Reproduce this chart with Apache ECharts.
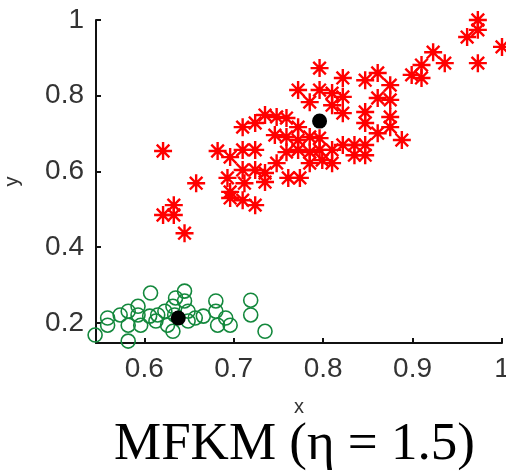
<!DOCTYPE html>
<html>
<head>
<meta charset="utf-8">
<script src="https://cdn.jsdelivr.net/npm/echarts@6/dist/echarts.min.js"></script>
<style>
  html, body { margin: 0; padding: 0; background: #fff; }
  #chart { width: 506px; height: 475px; }
</style>
</head>
<body>
<div id="chart"></div>
<script>
// cluster 1 (red asterisks)
const redPoints = [
  [0.621, 0.654], [0.658, 0.569], [0.621, 0.485], [0.633, 0.511], [0.633, 0.485], [0.645, 0.437],
  [0.682, 0.654], [0.696, 0.638], [0.710, 0.657], [0.724, 0.657], [0.710, 0.717], [0.724, 0.728],
  [0.735, 0.749], [0.748, 0.744], [0.759, 0.741], [0.772, 0.717], [0.710, 0.604], [0.724, 0.604],
  [0.693, 0.583], [0.712, 0.569], [0.696, 0.546], [0.696, 0.530], [0.710, 0.524], [0.724, 0.511],
  [0.735, 0.596], [0.735, 0.572], [0.748, 0.622], [0.761, 0.583], [0.774, 0.583], [0.746, 0.696],
  [0.759, 0.691], [0.772, 0.683], [0.759, 0.651], [0.772, 0.657], [0.796, 0.873], [0.772, 0.815],
  [0.785, 0.783], [0.796, 0.815], [0.810, 0.807], [0.822, 0.847], [0.822, 0.797], [0.810, 0.775],
  [0.822, 0.754], [0.785, 0.691], [0.796, 0.688], [0.785, 0.651], [0.796, 0.657], [0.810, 0.657],
  [0.785, 0.622], [0.799, 0.630], [0.810, 0.622], [0.822, 0.670], [0.835, 0.670], [0.835, 0.643],
  [0.847, 0.670], [0.847, 0.643], [0.847, 0.841], [0.861, 0.860], [0.875, 0.828], [0.875, 0.789],
  [0.875, 0.744], [0.875, 0.717], [0.888, 0.683], [0.861, 0.701], [0.847, 0.757], [0.847, 0.728],
  [0.861, 0.794], [0.899, 0.855], [0.910, 0.881], [0.910, 0.847], [0.923, 0.915], [0.936, 0.886],
  [0.961, 0.955], [0.973, 1.000], [0.973, 0.974], [0.973, 0.886], [1.000, 0.929]
]

// cluster 2 (green circles)
const greenPoints = [
  [0.545, 0.168], [0.559, 0.213], [0.559, 0.194], [0.582, 0.152], [0.582, 0.194], [0.582, 0.231],
  [0.573, 0.221], [0.593, 0.221], [0.596, 0.194], [0.607, 0.279], [0.606, 0.218], [0.615, 0.221],
  [0.623, 0.231], [0.626, 0.194], [0.632, 0.178], [0.634, 0.221], [0.645, 0.284], [0.645, 0.258],
  [0.649, 0.231], [0.657, 0.213], [0.666, 0.218], [0.680, 0.258], [0.680, 0.231], [0.682, 0.194],
  [0.691, 0.213], [0.696, 0.194], [0.719, 0.260], [0.719, 0.221], [0.735, 0.178], [0.635, 0.266],
  [0.632, 0.244], [0.593, 0.244], [0.613, 0.205], [0.649, 0.205]
]

// cluster centres
const centers = [[0.796, 0.733], [0.638, 0.213]]

const xTicks = [0.6, 0.7, 0.8, 0.9, 1]
const yTicks = [0.2, 0.4, 0.6, 0.8, 1]

const asterisk = 'path://M0,10L20,10M10,0L10,20M3,3L17,17M17,3L3,17'
const labelFont = 'Liberation Sans'

const chart = echarts.init(document.getElementById('chart'))
chart.setOption({
  animation: false,
  title: {
    text: 'MFKM (η = 1.5)',
    left: 109,
    top: 414,
    textStyle: {
      fontFamily: 'Liberation Serif',
      fontSize: 53,
      fontWeight: 'normal',
      color: '#000'
    }
  },
  grid: { left: 96, right: 4, top: 20, bottom: 132, outerBoundsMode: 'none' },
  xAxis: {
    type: 'value',
    min: 0.546,
    max: 1,
    name: 'x',
    nameLocation: 'middle',
    nameGap: 54,
    nameTextStyle: { fontFamily: labelFont, fontSize: 20, color: '#333' },
    axisLine: { onZero: false, lineStyle: { color: '#111', width: 2 } },
    axisTick: { inside: true, length: 5, customValues: xTicks, lineStyle: { color: '#111', width: 2 } },
    axisLabel: { customValues: xTicks, margin: 12, fontFamily: labelFont, fontSize: 28, color: '#333' },
    splitLine: { show: false }
  },
  yAxis: {
    type: 'value',
    min: 0.147,
    max: 1,
    name: 'y',
    nameLocation: 'middle',
    nameGap: 74,
    nameTextStyle: { fontFamily: labelFont, fontSize: 20, color: '#333' },
    axisLine: { show: true, onZero: false, lineStyle: { color: '#111', width: 2 } },
    axisTick: { show: true, inside: true, length: 5, customValues: yTicks, lineStyle: { color: '#111', width: 2 } },
    axisLabel: { customValues: yTicks, margin: 12, fontFamily: labelFont, fontSize: 28, color: '#333' },
    splitLine: { show: false }
  },
  series: [
    {
      type: 'scatter',
      data: redPoints,
      symbol: asterisk,
      symbolSize: 18,
      clip: false,
      itemStyle: { color: 'rgba(0,0,0,0)', borderColor: '#ff0000', borderWidth: 2.4, opacity: 1 }
    },
    {
      type: 'scatter',
      data: greenPoints,
      symbol: 'circle',
      symbolSize: 14,
      clip: false,
      itemStyle: { color: 'rgba(0,0,0,0)', borderColor: '#13883c', borderWidth: 1.6, opacity: 1 }
    },
    {
      type: 'scatter',
      data: centers,
      symbol: 'circle',
      symbolSize: 15,
      itemStyle: { color: '#000', opacity: 1 }
    }
  ]
})
</script>
</body>
</html>
